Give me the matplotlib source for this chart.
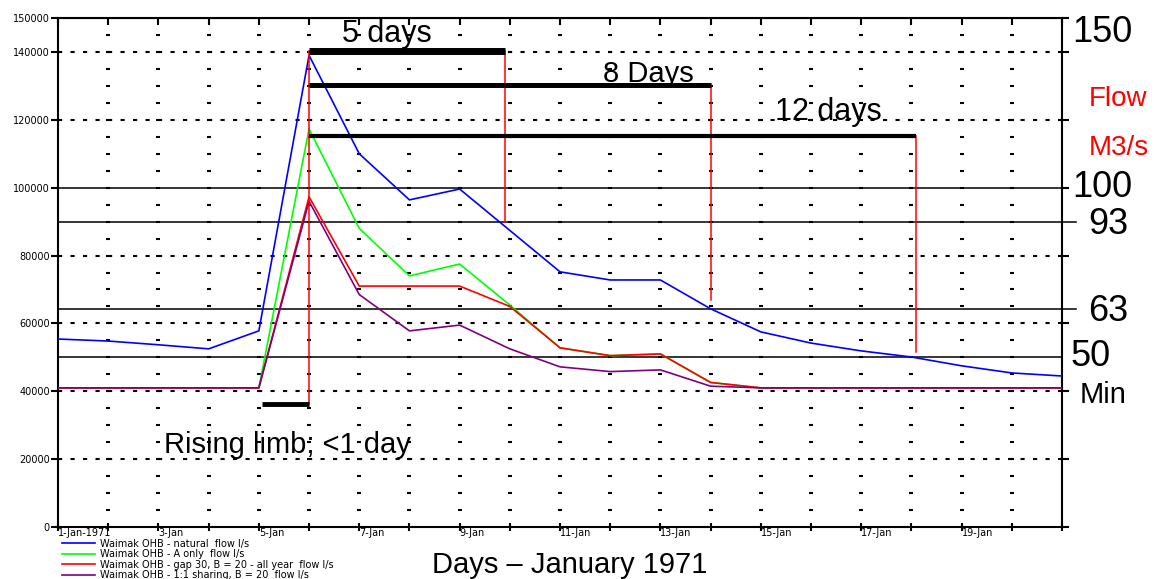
import numpy as np
import matplotlib
matplotlib.use('Agg')
import matplotlib.pyplot as plt

plt.rcParams['font.family'] = ['Liberation Sans', 'DejaVu Sans']

# ─────────────────────────────────────────────
# DONNÉES (débits l/s, jours de janvier 1971)
# ─────────────────────────────────────────────
days = np.arange(1, 22)

natural = [55400, 54800, 53700, 52500, 57800, 139000, 110000, 96400, 99600, 87400,
           75200, 72800, 72800, 64300, 57500, 54200, 51900, 50100, 47500, 45400, 44500]
a_only = [41000, 41000, 41000, 41000, 41000, 117300, 88000, 74000, 77500, 65400,
          52800, 50500, 51000, 42600, 41000, 41000, 41000, 41000, 41000, 41000, 41000]
gap30 = [41000, 41000, 41000, 41000, 41000, 97300, 71000, 71000, 71000, 65000,
         52800, 50500, 51000, 42600, 41000, 41000, 41000, 41000, 41000, 41000, 41000]
sharing = [41000, 41000, 41000, 41000, 41000, 96000, 68500, 57800, 59500, 52500,
           47200, 45800, 46300, 41500, 41000, 41000, 41000, 41000, 41000, 41000, 41000]

series_labels = ['Waimak OHB - natural  flow l/s',
                 'Waimak OHB - A only  flow l/s',
                 'Waimak OHB - gap 30, B = 20 - all year  flow l/s',
                 'Waimak OHB - 1:1 sharing, B = 20  flow l/s']
series_colors = ['#0000ff', '#00ff00', '#ff0000', '#800080']

x_labels = ['1-Jan-1971', '3-Jan', '5-Jan', '7-Jan', '9-Jan', '11-Jan',
            '13-Jan', '15-Jan', '17-Jan', '19-Jan']

# seuils (m3/s) et positions sur l'axe l/s
thresh_labels = ['100', '93', '63', '50']
thresh_values = [100000, 90000, 64300, 50100]

# durées : (texte, jour de fin, niveau de barre, bas de la ligne rouge)
dur_text = ['5 days', '8 Days', '12 days']
dur_end = [9.9, 14.0, 18.1]
dur_level = [140400, 130300, 115200]
dur_bottom = [90000, 66900, 51600]
dur_width = [5.0, 3.6, 3.0]
dur_text_x = [7.55, 12.75, 16.35]
dur_text_y = [142900, 131200, 120000]
dur_fs = [22, 21, 22]

# ─────────────────────────────────────────────
# FIGURE
# ─────────────────────────────────────────────
fig = plt.figure(figsize=(11.54, 5.79), dpi=100)
ax = fig.add_axes([0.0503, 0.0898, 0.8700, 0.8791])
ax.set_xlim(1, 21)
ax.set_ylim(0, 150000)

# grille : tirets courts à chaque jour / 5000
gx, gy = np.meshgrid(days[1:-1], np.arange(5000, 150000, 5000))
ax.plot(gx.ravel(), gy.ravel(), ls='none', marker='_', ms=3, mew=1.5,
        color='black', zorder=1)
for v in [20000, 40000, 60000, 80000, 120000, 140000]:
    ax.axhline(v, color='black', lw=1.5, ls=(0, (2, 4)), zorder=1)

# seuils horizontaux
for v, lab in zip(thresh_values, thresh_labels):
    xe = 1.0 if lab in ('100', '50') else 1.014
    ax.plot([0, xe], [v, v], transform=ax.get_yaxis_transform(),
            color='black', lw=1.1, clip_on=False, zorder=2)

# séries
for vals, lab, col in zip([natural, a_only, gap30, sharing], series_labels, series_colors):
    ax.plot(days, vals, color=col, lw=1.2, label=lab, zorder=3)

# barres de durée + lignes rouges
ax.plot([6, 6], [dur_level[0], 36300], color='red', lw=1.1, zorder=4)
for txt, xe, lv, lb, w, tx, ty, fs in zip(dur_text, dur_end, dur_level, dur_bottom,
                                          dur_width, dur_text_x, dur_text_y, dur_fs):
    ax.plot([6, xe], [lv, lv], color='black', lw=w, solid_capstyle='butt', zorder=5)
    ax.plot([xe, xe], [lv, lb], color='red', lw=1.1, zorder=4)
    ax.text(tx, ty, txt, fontsize=fs, ha='center', va='baseline', zorder=6)

ax.plot([5.07, 6], [36300, 36300], color='black', lw=3.5, solid_capstyle='butt', zorder=5)
ax.text(5.56, 21800, 'Rising limb; <1 day', fontsize=21, ha='center', va='baseline')

# étiquettes de droite
right_txt = [('150', 21.2, 145600, 'black', 26),
             ('Flow', 21.54, 126000, 'red', 20),
             ('M3/s', 21.54, 111700, 'red', 20),
             ('100', 21.2, 100000, 'black', 26),
             ('93', 21.52, 89000, 'black', 26),
             ('63', 21.52, 63500, 'black', 26),
             ('50', 21.16, 50300, 'black', 26),
             ('Min', 21.36, 38900, 'black', 21)]
for t, x, y, c, fs in right_txt:
    ax.text(x, y, t, color=c, fontsize=fs, ha='left', va='center', clip_on=False)

# axes
small = {'family': 'DejaVu Sans', 'size': 7}
ax.set_xticks(days)
ax.set_xticklabels([x_labels[(d - 1) // 2] if (d % 2 == 1 and d < 21) else '' for d in days],
                   ha='left', fontdict=small)
ax.tick_params(axis='x', direction='inout', length=6, width=1.5, pad=-2)
ax.set_yticks([0, 20000, 40000, 60000, 80000, 100000, 120000, 140000, 150000])
ax.set_yticklabels(['0', '20000', '40000', '60000', '80000', '100000', '120000', '140000', '150000'],
                   fontdict=small)
ax.tick_params(axis='y', direction='out', length=5, width=1.5, pad=1, right=True)
for s in ax.spines.values():
    s.set_linewidth(1.5)
top = ax.secondary_xaxis('top')
top.set_xticks(days)
top.tick_params(direction='in', length=5, width=1.5, labeltop=False)

ax.legend(loc='upper left', bbox_to_anchor=(0.054, 0.0695), bbox_transform=fig.transFigure,
          frameon=False, prop={'family': 'DejaVu Sans', 'size': 7}, handlelength=3.4,
          handletextpad=0.5, labelspacing=0.05, borderpad=0, borderaxespad=0)

fig.text(0.494, 0.024, 'Days – January 1971', fontsize=21, ha='center', va='center')

plt.savefig('out.png', dpi=100)
